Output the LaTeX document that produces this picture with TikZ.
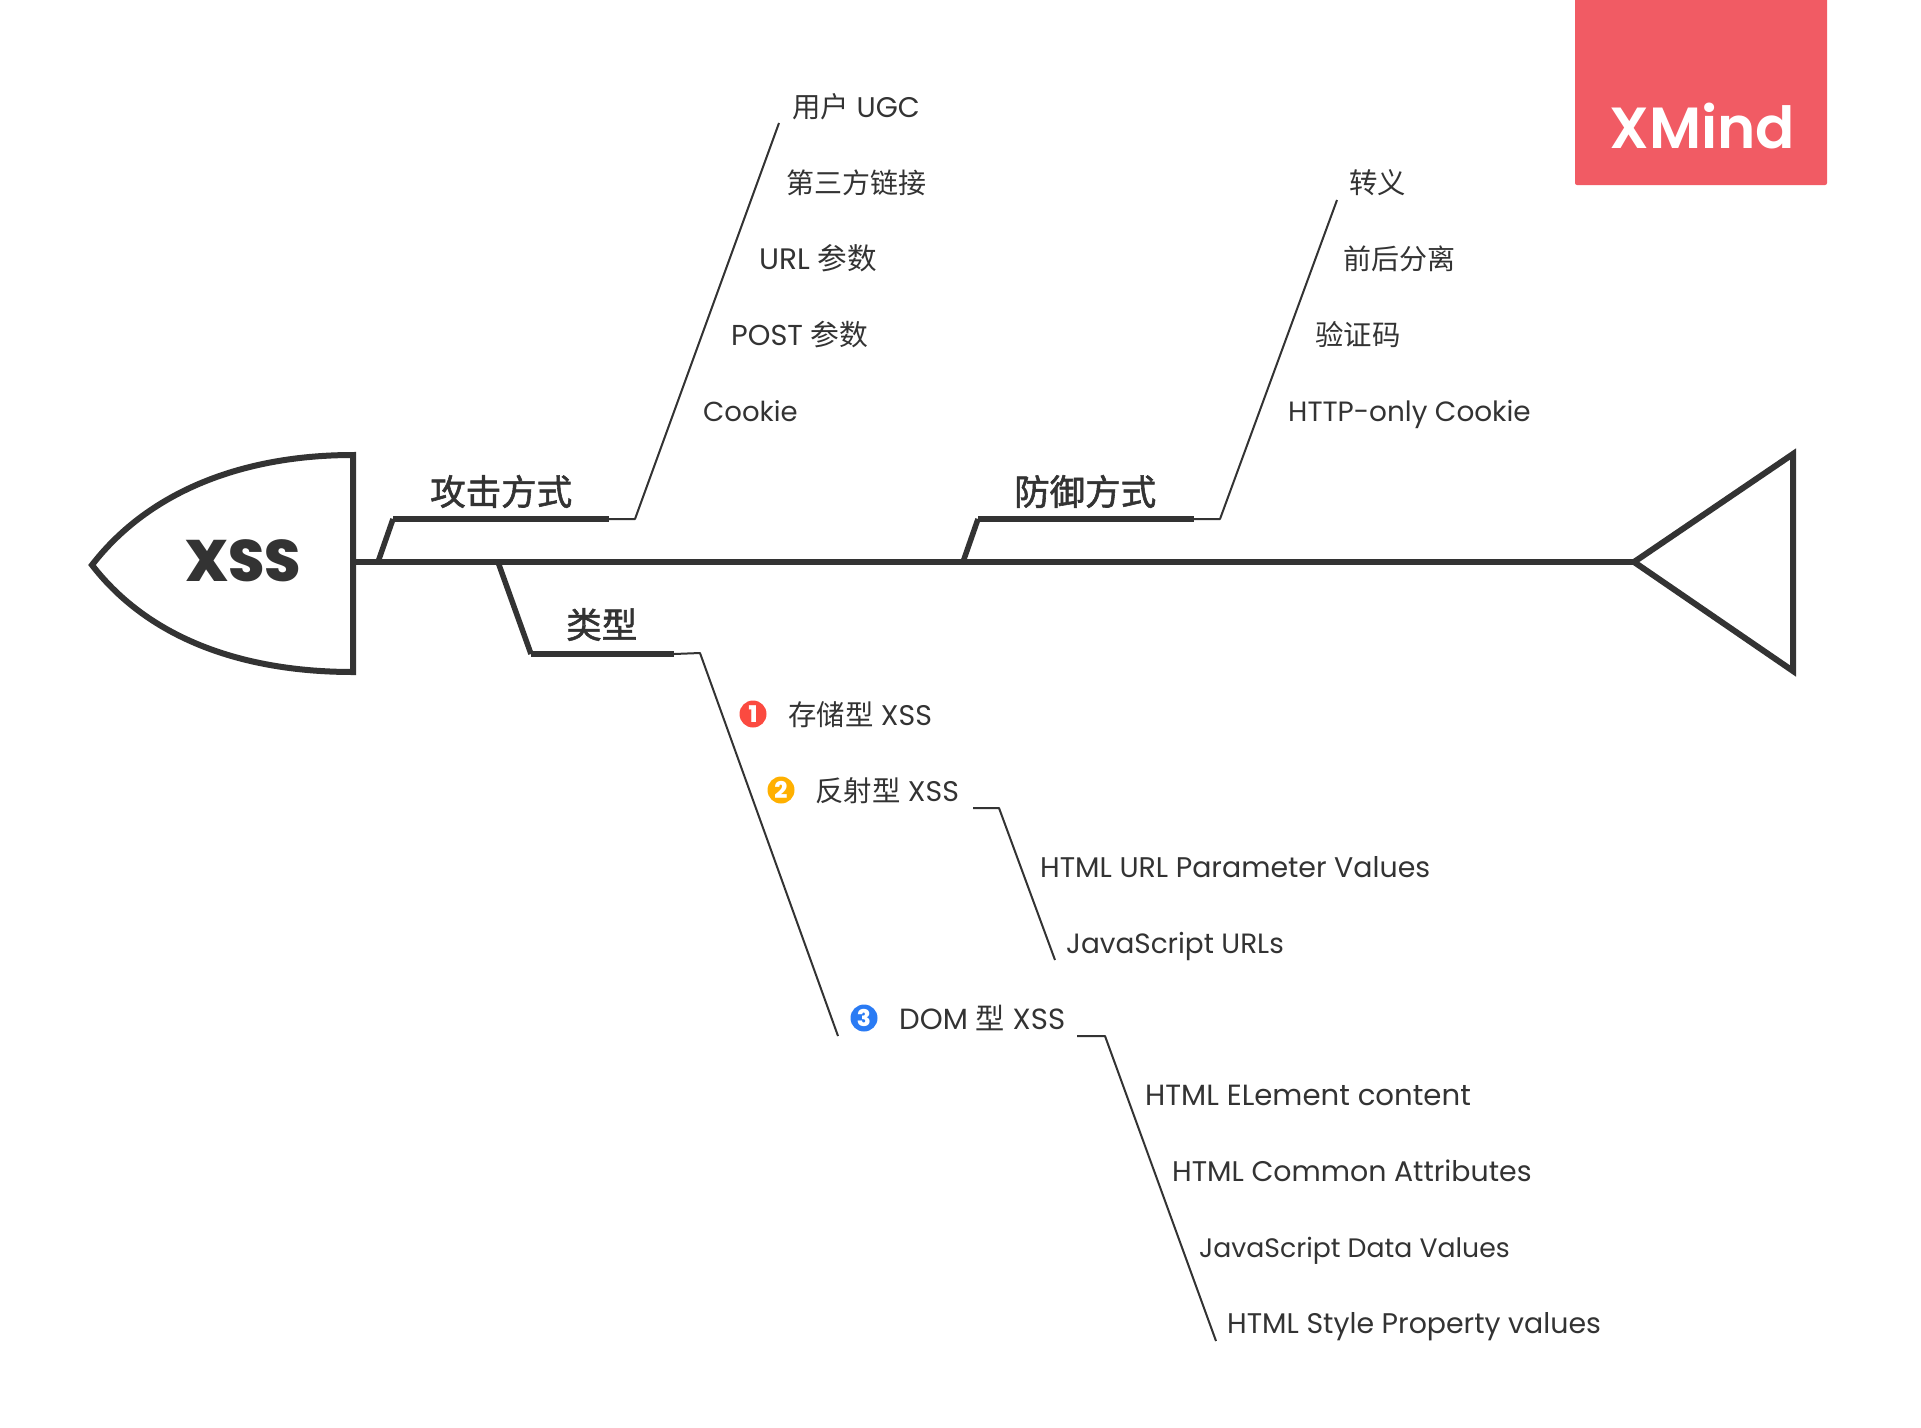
\documentclass[tikz,border=0pt]{standalone}
\usepackage{fontspec}
\setmainfont{Poppins}
\newfontfamily\cjkf{Noto Sans CJK SC}
\newfontfamily\cjkm[FakeBold=1.6]{Noto Sans CJK SC}
\newfontfamily\heavyf{Poppins ExtraBold}
\newfontfamily\logof{Poppins SemiBold}
\definecolor{ink}{HTML}{333333}
\definecolor{logo}{HTML}{F15B64}
\definecolor{bred}{HTML}{FB4A40}
\definecolor{borange}{HTML}{FFB000}
\definecolor{bblue}{HTML}{2A7BF4}
\newcommand{\zh}[1]{{\cjkf #1}}
\newcommand{\fsz}[1]{\fontsize{#1}{32}\selectfont}
\tikzset{
  leaf/.style={inner sep=0pt,anchor=base west,text=ink,font=\fontsize{28.4}{32}\selectfont},
  mainlabel/.style={inner sep=0pt,anchor=base west,text=ink,font=\fontsize{35.5}{40}\selectfont\cjkm},
  badge/.style={circle,inner sep=0pt,minimum size=27pt,text=white,font=\fontsize{23}{24}\selectfont\heavyf},
  thinline/.style={draw=ink,line width=2pt},
  thickline/.style={draw=ink,line width=6.5pt},
  slantline/.style={draw=ink,line width=5.5pt},
  outline/.style={draw=ink,line width=6pt,line join=miter,fill=white},
}
\begin{document}
\begin{tikzpicture}[x=1pt,y=-1pt]
\useasboundingbox (0,0) rectangle (1921,1427);
% logo
\fill[logo,rounded corners=2pt] (1575,-8) rectangle (1827,185);
\node[inner sep=0pt,anchor=base west,text=white,font=\fontsize{58}{60}\selectfont\logof] (logotext) at (1609,148) {XMind};
% joints
\coordinate (headtop) at (353,455);
\coordinate (headbot) at (353,672);
\coordinate (headtip) at (92,565);
\coordinate (spineA) at (353,562);
\coordinate (spineB) at (1634,562);
\coordinate (tailT) at (1793,454);
\coordinate (tailB) at (1793,671);
\coordinate (a0) at (378,562);
\coordinate (a1) at (393,519);
\coordinate (a2) at (609,519);
\coordinate (a3) at (635,519);
\coordinate (a4) at (779,123);
\coordinate (d0) at (963,562);
\coordinate (d1) at (978,519);
\coordinate (d2) at (1194,519);
\coordinate (d3) at (1220,519);
\coordinate (d4) at (1337,200);
\coordinate (t0) at (498,562);
\coordinate (t1) at (531,654);
\coordinate (t2) at (674,654);
\coordinate (t3) at (700,653);
\coordinate (t4) at (838,1036);
\coordinate (r0) at (973,808);
\coordinate (r1) at (999,808);
\coordinate (r2) at (1055,960);
\coordinate (m0) at (1077,1036);
\coordinate (m1) at (1105,1036);
\coordinate (m2) at (1216,1341);
% head and tail
\draw[outline] (headtip) .. controls (150,490) and (245,455) .. (headtop) -- (headbot)
  .. controls (245,672) and (150,640) .. (headtip) -- cycle;
\draw[outline,fill=none] (spineB) -- (tailT) -- (tailB) -- cycle;
\draw[thickline] (spineA) -- (spineB);
% branches
\draw[slantline,line join=round] (a0) -- (a1);
\draw[thickline] (a1) -- (a2);
\draw[thinline,line join=round] (a2) -- (a3) -- (a4);
\draw[slantline,line join=round] (d0) -- (d1);
\draw[thickline] (d1) -- (d2);
\draw[thinline,line join=round] (d2) -- (d3) -- (d4);
\draw[slantline,line join=round] (t0) -- (t1);
\draw[thickline] (t1) -- (t2);
\draw[thinline,line join=round] (t2) -- (t3) -- (t4);
\draw[thinline,line join=round] (r0) -- (r1) -- (r2);
\draw[thinline,line join=round] (m0) -- (m1) -- (m2);
% main labels
\node[inner sep=0pt,text=ink,font=\fontsize{58.5}{64}\selectfont\heavyf] (xss) at (243,561) {XSS};
\node[mainlabel] (attack) at (430,505) {攻击方式};
\node[mainlabel] (defend) at (1014,505) {防御方式};
\node[mainlabel] (kinds) at (566,638) {类型};
% attack leaves
\node[leaf] (l1) at (792,117) {\zh{用户} UGC};
\node[leaf] (l2) at (786,193) {\fsz{28}\zh{第三方链接}};
\node[leaf] (l3) at (759,269) {\fsz{29.6}URL \zh{参数}};
\node[leaf] (l4) at (731,345) {\fsz{28.8}POST \zh{参数}};
\node[leaf] (l5) at (703,421) {\fsz{27.5}Cookie};
% defence leaves
\node[leaf] (d-l1) at (1349,193) {\zh{转义}};
\node[leaf] (d-l2) at (1343,269) {\fsz{28}\zh{前后分离}};
\node[leaf] (d-l3) at (1315,345) {\zh{验证码}};
\node[leaf] (d-l4) at (1288,421) {\fsz{27.9}HTTP-only Cookie};
% kinds
\node[badge,fill=bred] (b1) at (753,714) {1};
\node[leaf] (k1) at (788,725) {\zh{存储型} XSS};
\node[badge,fill=borange] (b2) at (781,790) {2};
\node[leaf] (k2) at (815,801) {\zh{反射型} XSS};
\node[badge,fill=bblue] (b3) at (864,1018) {3};
\node[leaf] (k3) at (899,1029) {\fsz{29.2}DOM \zh{型} XSS};
\node[leaf] (r-l1) at (1040,877) {HTML URL Parameter Values};
\node[leaf] (r-l2) at (1066,953) {\fsz{27.9}JavaScript URLs};
\node[leaf] (m-l1) at (1145,1105) {\fsz{29.2}HTML ELement content};
\node[leaf] (m-l2) at (1172,1181) {HTML Common Attributes};
\node[leaf] (m-l3) at (1199,1257) {\fsz{26.7}JavaScript Data Values};
\node[leaf] (m-l4) at (1227,1333) {HTML Style Property values};
\end{tikzpicture}
\end{document}
